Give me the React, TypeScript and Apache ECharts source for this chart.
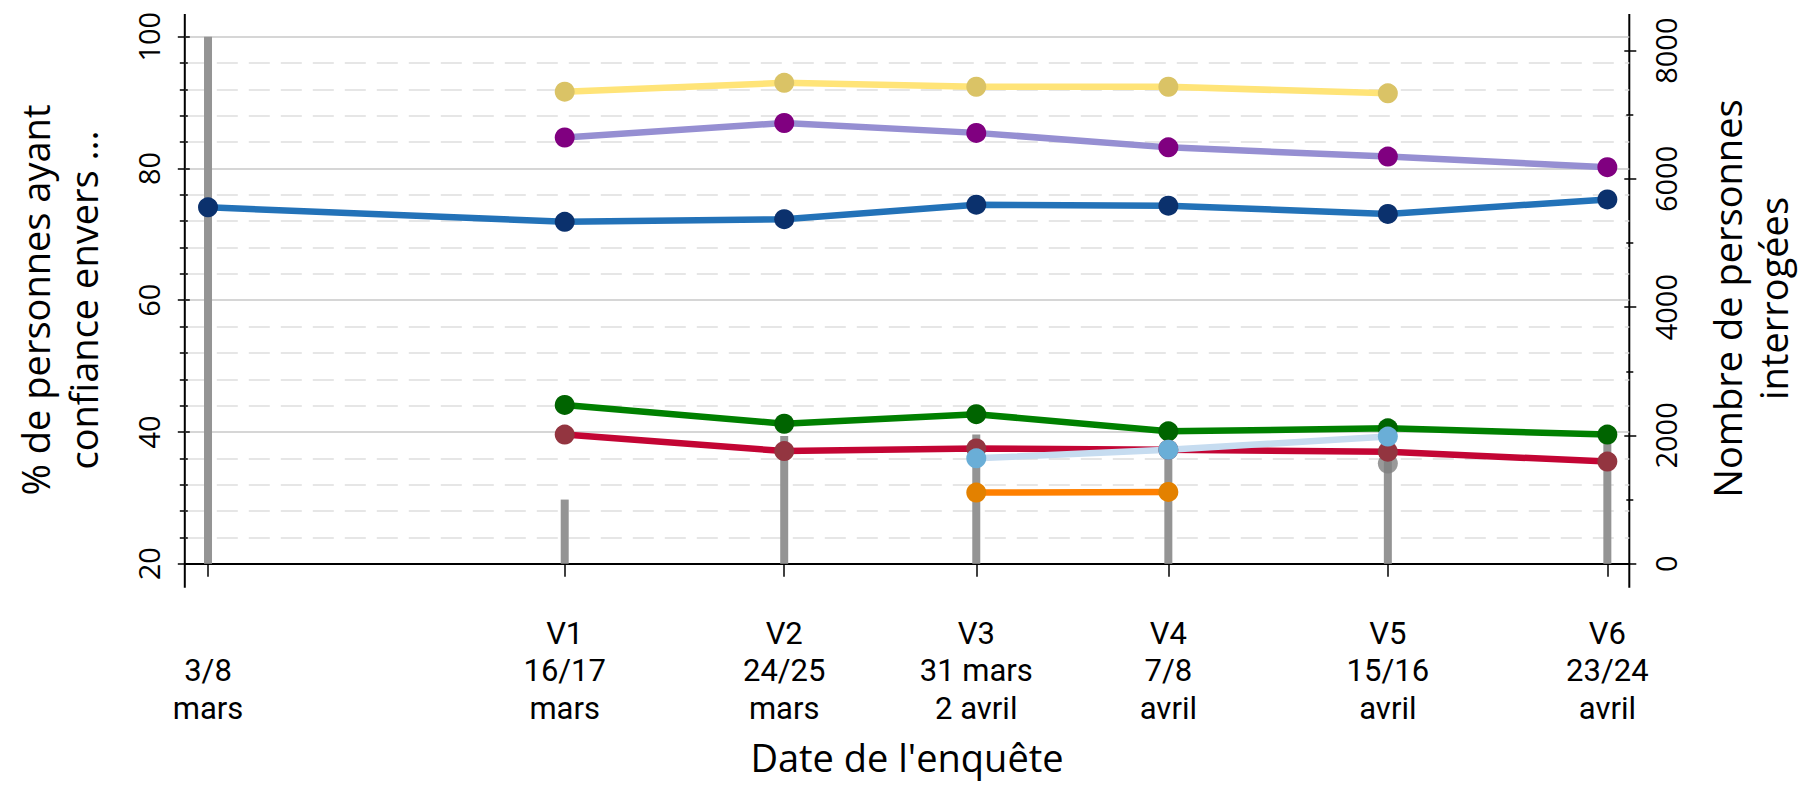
import React, { useEffect, useRef } from "react";
import * as echarts from "echarts";

// Survey dates, as day counts from 1 March (start day of each survey)
const surveyDays = [3, 16, 24, 31, 38, 46, 54];
const dateLabels = [
  "\n3/8\nmars",
  "V1\n16/17\nmars",
  "V2\n24/25\nmars",
  "V3\n31 mars\n2 avril",
  "V4\n7/8\navril",
  "V5\n15/16\navril",
  "V6\n23/24\navril",
];

// Number of people surveyed (right axis)
const respondents = [8218, 1000, 1990, 2015, 1980, 1600, 1900];

// % of people expressing confidence (left axis)
const serieJaune = [null, 91.65, 93.0, 92.4, 92.4, 91.4, null];
const serieViolette = [null, 84.7, 86.9, 85.4, 83.2, 81.8, 80.2];
const serieBleue = [74.1, 71.9, 72.3, 74.5, 74.35, 73.1, 75.3];
const serieVerte = [null, 44.1, 41.25, 42.7, 40.1, 40.55, 39.6];
const serieRouge = [null, 39.6, 37.1, 37.5, 37.3, 37.0, 35.5];
const serieGrise = [null, null, null, null, null, 35.2, null];
const serieBleuClair = [null, null, null, 36.0, 37.3, 39.3, null];
const serieOrange = [null, null, null, 30.8, 30.9, null, null];

const leftTicks = [20, 40, 60, 80, 100];
const rightMajorTicks = [0, 2000, 4000, 6000, 8000];
const rightMinorTicks = [1000, 3000, 5000, 7000];

const W = 1799;
const H = 785;
const AXIS_L = 184.8;
const AXIS_R = 1629.3;
const PLOT_TOP = 36.7;
const PLOT_BOTTOM = 563.7;
const FONT = "Open Sans";
const TICK_FONT = "Roboto";

function pts(values: (number | null)[]) {
  return surveyDays
    .map((d, i) => [d, values[i]])
    .filter((p) => p[1] !== null && p[1] !== undefined);
}

function lineSeries(values: (number | null)[], lineColor: string, markerColor: string) {
  return {
    type: "line",
    yAxisIndex: 0,
    data: pts(values),
    symbol: "circle",
    symbolSize: 20,
    showSymbol: true,
    lineStyle: { color: lineColor, width: 6.5 },
    itemStyle: { color: markerColor },
    emphasis: { disabled: true },
    silent: true,
  };
}

const tickStyle = { color: "#000", width: 1.5 };

export default function App() {
  const ref = useRef<HTMLDivElement>(null);

  useEffect(() => {
    if (!ref.current) return;
    const chart = echarts.init(ref.current, undefined, { renderer: "svg" });

    const option: any = {
      animation: false,
      backgroundColor: "#fff",
      textStyle: { fontFamily: FONT },
      grid: {
        left: AXIS_L,
        right: W - AXIS_R,
        top: PLOT_TOP,
        bottom: H - PLOT_BOTTOM,
        containLabel: false,
      },
      xAxis: {
        type: "value",
        min: 2.154,
        max: 54.8,
        position: "bottom",
        offset: 23,
        axisLine: { show: true, lineStyle: { color: "#000", width: 2 } },
        axisTick: { show: true, length: 13, customValues: surveyDays, lineStyle: tickStyle },
        axisLabel: {
          show: true,
          customValues: surveyDays,
          formatter: (v: number) => {
            const i = surveyDays.indexOf(v);
            return i >= 0 ? dateLabels[i] : "";
          },
          fontFamily: TICK_FONT,
          fontSize: 31,
          lineHeight: 37.5,
          color: "#000",
          margin: 28,
        },
        splitLine: { show: false },
      },
      yAxis: [
        {
          type: "value",
          position: "left",
          min: 20,
          max: 100,
          interval: 20,
          axisLine: { show: false },
          axisTick: { show: true, length: 7, lineStyle: tickStyle },
          minorTick: { show: true, splitNumber: 5, length: 5, lineStyle: tickStyle },
          axisLabel: {
            show: true,
            customValues: leftTicks,
            rotate: 90,
            fontFamily: FONT,
            fontSize: 29,
            color: "#000",
            margin: 22,
          },
          splitLine: { show: true, lineStyle: { color: "#c8c8c8", width: 1.5 } },
          minorSplitLine: { show: true, lineStyle: { color: "#dedede", width: 1.5, type: [21, 11] } },
        },
        {
          type: "value",
          position: "left",
          min: 20,
          max: 100,
          interval: 20,
          axisLine: { show: false },
          axisTick: { show: true, inside: true, length: 5, lineStyle: tickStyle },
          minorTick: { show: true, splitNumber: 5, length: 3, lineStyle: tickStyle },
          axisLabel: { show: false },
          splitLine: { show: false },
        },
        {
          type: "value",
          position: "right",
          min: 0,
          max: 8218,
          axisLine: { show: false },
          axisTick: { show: true, length: 7, customValues: rightMajorTicks, lineStyle: tickStyle },
          axisLabel: {
            show: true,
            customValues: rightMajorTicks,
            formatter: (v: number) => String(v),
            rotate: 90,
            fontFamily: FONT,
            fontSize: 29,
            color: "#000",
            margin: 22,
          },
          splitLine: { show: false },
        },
        {
          type: "value",
          position: "right",
          min: 0,
          max: 8218,
          axisLine: { show: false },
          axisTick: { show: true, inside: true, length: 5, customValues: rightMajorTicks, lineStyle: tickStyle },
          axisLabel: { show: false },
          splitLine: { show: false },
        },
        {
          type: "value",
          position: "right",
          min: 0,
          max: 8218,
          axisLine: { show: false },
          axisTick: { show: true, length: 4, customValues: rightMinorTicks, lineStyle: tickStyle },
          axisLabel: { show: false },
          splitLine: { show: false },
        },
        {
          type: "value",
          position: "right",
          min: 0,
          max: 8218,
          axisLine: { show: false },
          axisTick: { show: true, inside: true, length: 3, customValues: rightMinorTicks, lineStyle: tickStyle },
          axisLabel: { show: false },
          splitLine: { show: false },
        },
      ],
      series: [
        {
          type: "bar",
          yAxisIndex: 2,
          data: surveyDays.map((d, i) => [d, respondents[i]]),
          barWidth: 8,
          itemStyle: { color: "#949494" },
          emphasis: { disabled: true },
          silent: true,
        },
        lineSeries(serieBleue, "#2372b8", "#0b316d"),
        lineSeries(serieViolette, "#968fd2", "#800080"),
        lineSeries(serieJaune, "#ffe478", "#dac366"),
        lineSeries(serieVerte, "#008000", "#006400"),
        lineSeries(serieRouge, "#c30534", "#933540"),
        {
          type: "scatter",
          yAxisIndex: 0,
          data: pts(serieGrise),
          symbol: "circle",
          symbolSize: 20,
          itemStyle: { color: "#808080" },
          emphasis: { disabled: true },
          silent: true,
        },
        lineSeries(serieBleuClair, "#c6dcf0", "#6aaed7"),
        lineSeries(serieOrange, "#ff8000", "#e38100"),
      ],
      graphic: [
        {
          type: "line",
          shape: { x1: AXIS_L, y1: 14, x2: AXIS_L, y2: 587.7 },
          style: { stroke: "#000", lineWidth: 2 },
          silent: true,
        },
        {
          type: "line",
          shape: { x1: AXIS_R, y1: 14, x2: AXIS_R, y2: 587.7 },
          style: { stroke: "#000", lineWidth: 2 },
          silent: true,
        },
        {
          type: "text",
          x: 59,
          y: 300,
          rotation: Math.PI / 2,
          silent: true,
          style: {
            text: "% de personnes ayant\nconfiance envers ...",
            fontFamily: FONT,
            fontSize: 38,
            lineHeight: 48,
            fill: "#000",
            align: "center",
            verticalAlign: "middle",
          },
        },
        {
          type: "text",
          x: 1750,
          y: 298.5,
          rotation: Math.PI / 2,
          silent: true,
          style: {
            text: "Nombre de personnes\ninterrogées",
            fontFamily: FONT,
            fontSize: 38,
            lineHeight: 46,
            fill: "#000",
            align: "center",
            verticalAlign: "middle",
          },
        },
        {
          type: "text",
          x: 907,
          y: 757,
          silent: true,
          style: {
            text: "Date de l'enquête",
            fontFamily: FONT,
            fontSize: 38,
            fill: "#000",
            align: "center",
            verticalAlign: "middle",
          },
        },
      ],
    };

    chart.setOption(option);
    return () => {
      chart.dispose();
    };
  }, []);

  return (
    <div
      ref={ref}
      style={{ position: "fixed", left: 0, top: 0, width: W, height: H, background: "#fff" }}
    />
  );
}
